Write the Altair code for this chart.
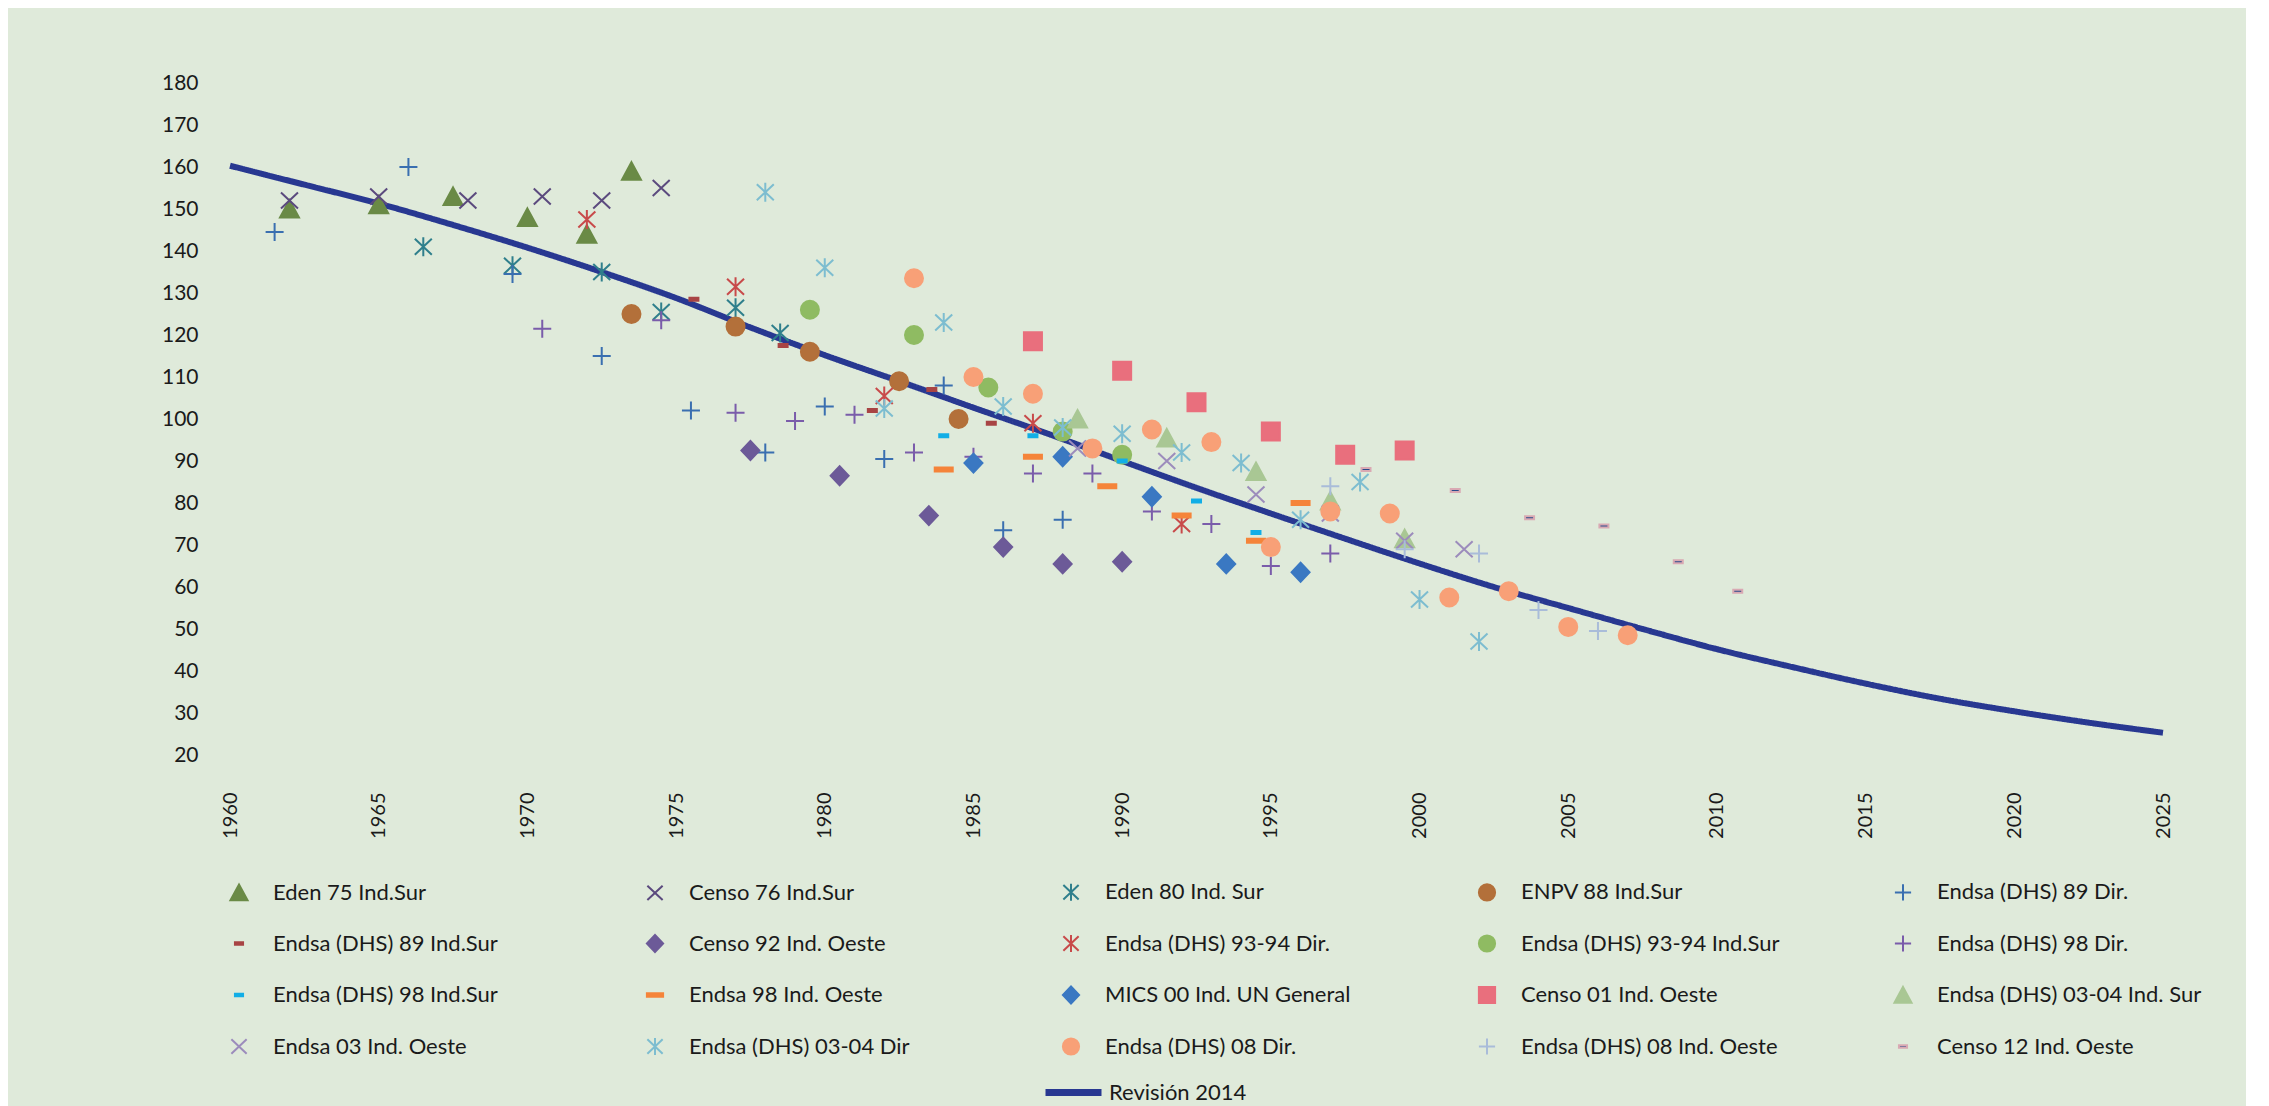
import altair as alt
import pandas as pd

# ---------------- data ----------------
series_names = [
    "Eden 75 Ind.Sur", "Censo 76 Ind.Sur", "Eden 80 Ind. Sur", "ENPV 88 Ind.Sur", "Endsa (DHS) 89 Dir.",
    "Endsa (DHS) 89  Ind.Sur", "Censo 92 Ind. Oeste", "Endsa (DHS) 93-94 Dir.", "Endsa (DHS) 93-94 Ind.Sur", "Endsa (DHS) 98  Dir.",
    "Endsa (DHS) 98 Ind.Sur", "Endsa 98 Ind. Oeste", "MICS 00 Ind. UN General", "Censo 01  Ind. Oeste", "Endsa (DHS) 03-04 Ind. Sur",
    "Endsa 03 Ind. Oeste", "Endsa (DHS) 03-04 Dir", "Endsa (DHS) 08 Dir.", "Endsa (DHS) 08 Ind. Oeste", "Censo 12  Ind. Oeste",
]

eden75_x = [1962, 1965, 1967.5, 1970, 1972, 1973.5]
eden75_y = [150, 151, 153, 148, 144, 159]
censo76_x = [1962, 1965, 1968, 1970.5, 1972.5, 1974.5]
censo76_y = [152, 153, 152, 153, 152, 155]
eden80_x = [1966.5, 1969.5, 1972.5, 1974.5, 1977, 1978.5]
eden80_y = [141, 136.5, 135, 125.5, 126.5, 120.5]
enpv88_x = [1973.5, 1977, 1979.5, 1982.5, 1984.5]
enpv88_y = [125, 122, 116, 109, 100]
dhs89dir_x = [1961.5, 1966, 1969.5, 1972.5, 1975.5, 1978, 1980, 1982, 1984, 1986, 1988]
dhs89dir_y = [144.5, 160, 134.5, 115, 102, 92, 103, 90.5, 108, 73.5, 76]
dhs89sur_x = [1975.6, 1978.6, 1981.6, 1983.6, 1985.6]
dhs89sur_y = [128.5, 117.5, 102, 107, 99]
censo92_x = [1977.5, 1980.5, 1983.5, 1986, 1988, 1990]
censo92_y = [92.5, 86.5, 77, 69.5, 65.5, 66]
dhs9394dir_x = [1972, 1977, 1982, 1987, 1992]
dhs9394dir_y = [147.5, 131.5, 105.5, 99, 75]
dhs9394sur_x = [1979.5, 1983, 1985.5, 1988, 1990]
dhs9394sur_y = [126, 120, 107.5, 97, 91.5]
dhs98dir_x = [1970.5, 1974.5, 1977, 1979, 1981, 1983, 1985, 1987, 1989, 1991, 1993, 1995, 1997]
dhs98dir_y = [121.5, 123.5, 101.5, 99.5, 101, 92, 91, 87, 87, 78, 75, 65, 68]
dhs98sur_x = [1984, 1987, 1990, 1992.5, 1994.5]
dhs98sur_y = [96, 96, 90, 80.5, 73]
e98oeste_x = [1984, 1987, 1989.5, 1992, 1994.5, 1996]
e98oeste_y = [88, 91, 84, 77, 71, 80]
mics00_x = [1985, 1988, 1991, 1993.5, 1996]
mics00_y = [89.5, 91, 81.5, 65.5, 63.5]
censo01_x = [1987, 1990, 1992.5, 1995, 1997.5, 1999.5]
censo01_y = [118.5, 111.5, 104, 97, 91.5, 92.5]
dhs0304sur_x = [1988.5, 1991.5, 1994.5, 1997, 1999.5]
dhs0304sur_y = [100, 95.5, 87.5, 80.5, 71.5]
e03oeste_x = [1988.5, 1991.5, 1994.5, 1997, 1999.5, 2001.5]
e03oeste_y = [93, 90, 82, 77.5, 71, 69]
dhs0304dir_x = [1978, 1980, 1982, 1984, 1986, 1988, 1990, 1992, 1994, 1996, 1998, 2000, 2002]
dhs0304dir_y = [154, 136, 102.5, 123, 103, 98, 96.5, 92, 89.5, 76, 85, 57, 47]
dhs08dir_x = [1983, 1985, 1987, 1989, 1991, 1993, 1995, 1997, 1999, 2001, 2003, 2005, 2007]
dhs08dir_y = [133.5, 110, 106, 93, 97.5, 94.5, 69.5, 78, 77.5, 57.5, 59, 50.5, 48.5]
dhs08oeste_x = [1997, 1999.5, 2002, 2004, 2006]
dhs08oeste_y = [84, 69, 68, 54.5, 49.5]
censo12_x = [1998.2, 2001.2, 2003.7, 2006.2, 2008.7, 2010.7]
censo12_y = [88, 83, 76.5, 74.5, 66, 59]

linea_nombre = "Revisión 2014"
linea_anios = [1960, 1962.5, 1965, 1967.5, 1970, 1972.5, 1975, 1977.5, 1980, 1982.5, 1985, 1987.5, 1990,
               1992.5, 1995, 1997.5, 2000, 2002.5, 2005, 2007.5, 2010, 2012.5, 2015, 2017.5, 2020, 2022.5, 2025]
linea_valores = [160.3, 155.8, 151.3, 146.2, 140.8, 135.0, 128.8, 121.8, 115.2, 109.0, 102.7, 96.5, 90.0,
                 83.6, 77.5, 71.5, 65.6, 60.0, 55.0, 50.0, 45.2, 41.0, 37.0, 33.4, 30.4, 27.7, 25.3]

x_ticks = list(range(1960, 2030, 5))
y_ticks = list(range(20, 190, 10))

series_xy = [
    (eden75_x, eden75_y), (censo76_x, censo76_y), (eden80_x, eden80_y), (enpv88_x, enpv88_y),
    (dhs89dir_x, dhs89dir_y), (dhs89sur_x, dhs89sur_y), (censo92_x, censo92_y), (dhs9394dir_x, dhs9394dir_y),
    (dhs9394sur_x, dhs9394sur_y), (dhs98dir_x, dhs98dir_y), (dhs98sur_x, dhs98sur_y), (e98oeste_x, e98oeste_y),
    (mics00_x, mics00_y), (censo01_x, censo01_y), (dhs0304sur_x, dhs0304sur_y), (e03oeste_x, e03oeste_y),
    (dhs0304dir_x, dhs0304dir_y), (dhs08dir_x, dhs08dir_y), (dhs08oeste_x, dhs08oeste_y), (censo12_x, censo12_y),
]

# ---------------- styles ----------------
TRI = "M0,-0.9L0.95,0.85L-0.95,0.85Z"
XX = "M-0.85,-0.8L0.85,0.8M-0.85,0.8L0.85,-0.8"
AST = "M-0.85,-0.8L0.85,0.8M-0.85,0.8L0.85,-0.8M0,-0.95L0,0.95"
CIR = "M0.9,0A0.9,0.9,0,1,1,-0.9,0A0.9,0.9,0,1,1,0.9,0Z"
PLUS = "M-0.9,0L0.9,0M0,-0.9L0,0.9"
SRECT = "M-0.45,-0.15L0.45,-0.15L0.45,0.15L-0.45,0.15Z"
DIAM = "M0,-0.95L0.9,0L0,0.95L-0.9,0Z"
WRECT = "M-0.9,-0.2L0.9,-0.2L0.9,0.2L-0.9,0.2Z"
SQ = "M-0.9,-0.9L0.9,-0.9L0.9,0.9L-0.9,0.9Z"

shapes = [TRI, XX, AST, CIR, PLUS, SRECT, DIAM, AST, CIR, PLUS,
          SRECT, WRECT, DIAM, SQ, TRI, XX, AST, CIR, PLUS, SRECT]
fills = ["#6a8a46", "#5b4a7e", "#2f7f8c", "#b3703a", "#3a6fb0", "#a84444", "#6c5a98", "#c84a4a", "#8fbb62", "#7a5caa",
         "#12aee6", "#f5843a", "#3a78c2", "#e96f7d", "#a9c794", "#9c8cbc", "#7dbdd0", "#f8a077", "#a9bcd9", "#2a4a8a"]
strokes = fills[:-1] + ["#d9a9b3"]

LINE_COLOR = "#283891"
BG = "#dfeada"
FONT = "Lato"
TXT = "#1a1a1a"

rows = []
for name, (xs, ys) in zip(series_names, series_xy):
    for xv, yv in zip(xs, ys):
        rows.append({"serie": name, "anio": xv, "valor": yv})
pts = pd.DataFrame(rows)
line_df = pd.DataFrame({"anio": linea_anios, "valor": linea_valores, "linea": linea_nombre})

x_enc = alt.X("anio:Q", scale=alt.Scale(domain=[1960, 2025], nice=False, zero=False),
              axis=alt.Axis(values=x_ticks, labelAngle=270, format="d", labelPadding=37, title=None,
                            labelFlush=False, labelOverlap=False, labelFontSize=20))
y_enc = alt.Y("valor:Q", scale=alt.Scale(domain=[20, 180], nice=False, zero=False),
              axis=alt.Axis(values=y_ticks, labelPadding=32, title=None, labelFontSize=21))

pt_legend = alt.Legend(orient="none", legendX=-2, legendY=798, columns=5, direction="horizontal",
                       gridAlign="all", columnPadding=104, rowPadding=25.5, symbolSize=324, symbolStrokeWidth=2,
                       labelFont=FONT, labelFontSize=22, labelColor=TXT, labelOffset=23,
                       labelLimit=500, title=None, padding=0)

line = alt.Chart(line_df).mark_line(color=LINE_COLOR, strokeWidth=6, interpolate="monotone").encode(
    x=x_enc, y=y_enc,
    strokeDash=alt.StrokeDash("linea:N", scale=alt.Scale(domain=[linea_nombre], range=[[1, 0]]),
                              legend=alt.Legend(orient="none", legendX=812, legendY=978, title=None,
                                                symbolType="stroke", symbolSize=3136, symbolStrokeWidth=7,
                                                symbolStrokeColor=LINE_COLOR, labelFont=FONT, labelFontSize=22,
                                                labelColor=TXT, labelOffset=4, padding=0)),
)

points = alt.Chart(pts).mark_point(filled=True, opacity=1, size=400, strokeWidth=2).encode(
    x=x_enc, y=y_enc,
    fill=alt.Fill("serie:N", scale=alt.Scale(domain=series_names, range=fills), legend=pt_legend),
    stroke=alt.Stroke("serie:N", scale=alt.Scale(domain=series_names, range=strokes), legend=pt_legend),
    shape=alt.Shape("serie:N", scale=alt.Scale(domain=series_names, range=shapes), legend=pt_legend),
)

chart = alt.layer(line, points).properties(
    width=1933, height=672,
    padding={"left": 222, "top": 75, "right": 83, "bottom": 353},
    autosize=alt.AutoSizeParams(type="none"),
).configure(background=BG).configure_view(strokeWidth=0).configure_axis(
    labelFont=FONT, labelColor=TXT, domain=False, ticks=False, grid=False
)

chart.save("out.html", embed_options={"renderer": "svg", "actions": False})
